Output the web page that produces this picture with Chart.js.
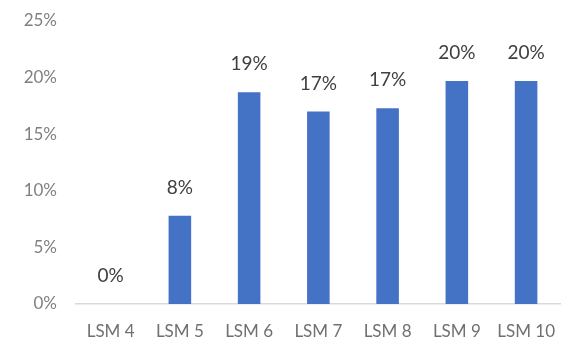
<!DOCTYPE html>
<html>
<head>
<meta charset="utf-8">
<script src="https://cdn.jsdelivr.net/npm/chart.js@4/dist/chart.umd.min.js"></script>
<style>
  html, body { margin: 0; padding: 0; background: #ffffff; overflow: hidden; width: 562px; height: 340px; }
  canvas { display: block; }
</style>
</head>
<body>
<canvas id="c" width="572" height="340"></canvas>
<script>
const categories = ["LSM 4", "LSM 5", "LSM 6", "LSM 7", "LSM 8", "LSM 9", "LSM 10"];
const shareValues = [0, 7.8, 18.7, 17.0, 17.3, 19.7, 19.7];
const yTicks = [0, 5, 10, 15, 20, 25];

const FONT = 'Lato, "Liberation Sans", sans-serif';

const valueLabels = {
  id: 'valueLabels',
  afterDatasetsDraw(chart) {
    const ctx = chart.ctx;
    const meta = chart.getDatasetMeta(0);
    ctx.save();
    ctx.font = '19px ' + FONT;
    ctx.fillStyle = '#404040';
    ctx.textAlign = 'center';
    ctx.textBaseline = 'middle';
    meta.data.forEach((bar, i) => {
      ctx.fillText(Math.round(shareValues[i]) + '%', bar.x, bar.y - 28);
    });
    ctx.restore();
  }
};

new Chart(document.getElementById('c'), {
  type: 'bar',
  data: {
    labels: categories,
    datasets: [{
      data: shareValues,
      backgroundColor: '#4472C4',
      borderWidth: 0,
      categoryPercentage: 1,
      barPercentage: 0.326
    }]
  },
  options: {
    responsive: false,
    animation: false,
    layout: { padding: { top: 21, right: 0, bottom: 0, left: 0 } },
    plugins: { legend: { display: false }, tooltip: { enabled: false } },
    scales: {
      x: {
        afterFit: (s) => { s.height = 36; },
        grid: { display: false, drawTicks: false },
        border: { display: true, color: '#d9d9d9', width: 1.5 },
        ticks: {
          color: '#707070',
          font: { family: FONT, size: 17 },
          padding: 17,
          maxRotation: 0,
          autoSkip: false
        }
      },
      y: {
        min: 0,
        max: 25,
        afterFit: (s) => { s.width = 76; s.paddingTop = 0; s.paddingBottom = 0; },
        afterBuildTicks: (s) => { s.ticks = yTicks.map(v => ({ value: v })); },
        grid: { display: false, drawTicks: false },
        border: { display: false },
        ticks: {
          color: '#808080',
          font: { family: FONT, size: 17, lineHeight: 0.5 },
          padding: 19,
          callback: (v) => v + '%'
        }
      }
    }
  },
  plugins: [valueLabels]
});
</script>
</body>
</html>
